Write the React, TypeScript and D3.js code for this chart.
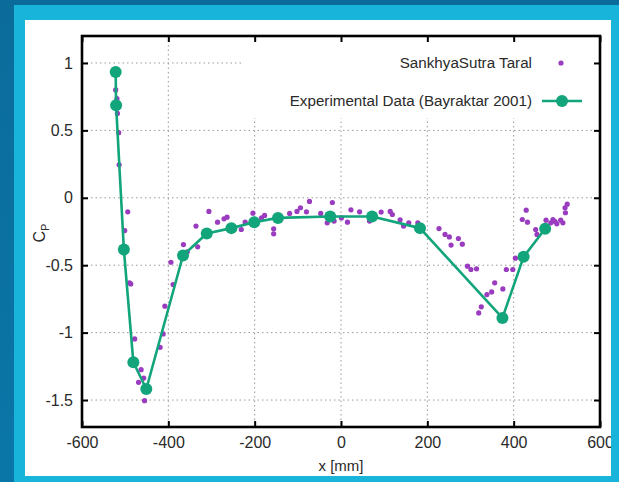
import React, { useEffect, useRef } from "react";
import * as d3 from "d3";

// SankhyaSutra Taral simulation points (x [mm], Cp)
const simX = [
  -522, -519, -518, -515, -514, -494, -501, -490, -487, -478, -463, -469, -457, -455,
  -419, -412, -408, -389, -394, -365, -356, -332, -336, -306, -286, -271, -264, -231,
  -250, -222, -204, -184, -177, -156, -156, -119, -102, -94, -80, -73, -47, -32, -20,
  -16, 1, 15, 23, 43, 66, 93, 114, 119, 137, 145, 157, 178, 227, 241, 251, 255, 272,
  281, 293, 301, 314, 319, 325, 338, 349, 356, 375, 383, 398, 404, 420, 429, 432, 451,
  454, 475, 486, 491, 500, 509, 514, 519, 524, 520, 496,
];
const simCp = [
  0.8, 0.735, 0.626, 0.483, 0.245, -0.104, -0.243, -0.631, -0.639, -1.047, -1.275,
  -1.369, -1.337, -1.505, -1.109, -1.01, -0.804, -0.644, -0.478, -0.347, -0.401, -0.364,
  -0.21, -0.101, -0.181, -0.156, -0.144, -0.235, -0.223, -0.181, -0.114, -0.149, -0.131,
  -0.23, -0.267, -0.116, -0.101, -0.074, -0.104, -0.027, -0.116, -0.186, -0.035, -0.173,
  -0.149, -0.181, -0.089, -0.104, -0.173, -0.106, -0.101, -0.124, -0.163, -0.21, -0.186,
  -0.186, -0.228, -0.272, -0.29, -0.351, -0.302, -0.344, -0.507, -0.532, -0.527, -0.854,
  -0.809, -0.718, -0.698, -0.631, -0.676, -0.532, -0.532, -0.448, -0.161, -0.092, -0.181,
  -0.235, -0.272, -0.166, -0.186, -0.161, -0.193, -0.166, -0.186, -0.074, -0.047, -0.111,
  -0.176,
];

// Experimental data (Bayraktar 2001)
const expX = [-522, -521, -503, -481, -451, -366, -311, -254, -201, -146, -25, 72, 183, 374, 423, 473];
const expCp = [0.933, 0.686, -0.384, -1.22, -1.418, -0.428, -0.265, -0.225, -0.181, -0.149, -0.139, -0.139, -0.225, -0.891, -0.438, -0.23];

const xTicks = [-600, -400, -200, 0, 200, 400, 600];
const yTicks = [1, 0.5, 0, -0.5, -1, -1.5];

const seriesNames = ["SankhyaSutra Taral", "Experimental Data (Bayraktar 2001)"];

const W = 619;
const H = 482;
const FONT = "'Liberation Sans', Arial, sans-serif";
const GREEN = "#12a47a";
const PURPLE = "#9a3cbf";

export default function App() {
  const ref = useRef<SVGSVGElement>(null);

  useEffect(() => {
    const svg = d3.select(ref.current);
    svg.selectAll("*").remove();

    const left = 82, right = 600, top = 36, bottom = 427;
    const x = d3.scaleLinear().domain([-600, 600]).range([left, right]);
    const y = d3.scaleLinear().domain([-1.7, 1.2]).range([bottom, top]);

    // frame: dark background, cyan border, white panel
    const defs = svg.append("defs");
    const grad = defs.append("linearGradient").attr("id", "bg").attr("x1", 0).attr("y1", 0).attr("x2", 0).attr("y2", 1);
    grad.append("stop").attr("offset", 0).attr("stop-color", "#0b6c9b");
    grad.append("stop").attr("offset", 1).attr("stop-color", "#0a76a8");
    defs.append("clipPath").attr("id", "panel").append("rect").attr("x", 25).attr("y", 20).attr("width", 586).attr("height", 456);

    svg.append("rect").attr("width", W).attr("height", H).attr("fill", "url(#bg)");
    svg.append("rect").attr("x", 14).attr("y", 5).attr("width", W - 14).attr("height", H - 5).attr("fill", "#19b4d9");
    svg.append("rect").attr("x", 25).attr("y", 20).attr("width", 586).attr("height", 456).attr("fill", "#ffffff");

    const g = svg.append("g").attr("clip-path", "url(#panel)");

    // grid
    const grid = g.append("g").attr("stroke", "#9a9a9a").attr("stroke-width", 1).attr("stroke-dasharray", "1.5,3");
    grid.selectAll("line.gx").data(xTicks.slice(1, -1)).enter().append("line")
      .attr("x1", (d) => x(d)).attr("x2", (d) => x(d)).attr("y1", top).attr("y2", bottom);
    grid.selectAll("line.gy").data(yTicks).enter().append("line")
      .attr("x1", left).attr("x2", right).attr("y1", (d) => y(d)).attr("y2", (d) => y(d));

    // opaque key box
    g.append("rect").attr("x", 241).attr("y", top + 1).attr("width", right - 241).attr("height", 81).attr("fill", "#ffffff");

    // simulation dots
    g.append("g").selectAll("circle").data(simX).enter().append("circle")
      .attr("cx", (d) => x(d)).attr("cy", (d, i) => y(simCp[i])).attr("r", 2.6).attr("fill", PURPLE);

    // experimental line + markers
    const line = d3.line<number>().x((d) => x(d)).y((d, i) => y(expCp[i]));
    g.append("path").datum(expX).attr("d", line).attr("fill", "none").attr("stroke", GREEN).attr("stroke-width", 2.6).attr("stroke-linejoin", "round");
    g.append("g").selectAll("circle").data(expX).enter().append("circle")
      .attr("cx", (d) => x(d)).attr("cy", (d, i) => y(expCp[i])).attr("r", 6).attr("fill", GREEN);

    // axes with inward ticks
    const styleAxis = (sel: any) => {
      sel.select(".domain").remove();
      sel.selectAll("line").attr("stroke", "#000").attr("stroke-width", 2);
      sel.selectAll("text").attr("font-family", FONT).attr("font-size", 16).attr("fill", "#2a2a2a");
    };
    g.append("g").attr("transform", `translate(0,${bottom})`)
      .call(d3.axisBottom(x).tickValues(xTicks).tickSize(-6).tickPadding(10).tickFormat((d: any) => String(d)))
      .call(styleAxis);
    g.append("g").attr("transform", `translate(0,${top})`)
      .call(d3.axisTop(x).tickValues(xTicks).tickSize(-6).tickFormat(() => ""))
      .call(styleAxis);
    g.append("g").attr("transform", `translate(${left},0)`)
      .call(d3.axisLeft(y).tickValues(yTicks).tickSize(-6).tickPadding(9).tickFormat((d: any) => String(d)))
      .call(styleAxis);
    g.append("g").attr("transform", `translate(${right},0)`)
      .call(d3.axisRight(y).tickValues(yTicks).tickSize(-6).tickFormat(() => ""))
      .call(styleAxis);

    g.append("rect").attr("x", left).attr("y", top).attr("width", right - left).attr("height", bottom - top)
      .attr("fill", "none").attr("stroke", "#000").attr("stroke-width", 2.6);

    // labels
    g.append("text").attr("x", (left + right) / 2).attr("y", 471).attr("text-anchor", "middle")
      .attr("font-family", FONT).attr("font-size", 15).attr("fill", "#2a2a2a").text("x [mm]");
    const yl = g.append("text").attr("transform", "translate(45,233) rotate(-90)").attr("text-anchor", "middle")
      .attr("font-family", FONT).attr("font-size", 16).attr("fill", "#2a2a2a");
    yl.append("tspan").text("C");
    yl.append("tspan").attr("font-size", 11).attr("dy", 4).text("P");

    // legend
    const lg = g.append("g").attr("font-family", FONT).attr("font-size", 15.2).attr("fill", "#2a2a2a");
    lg.append("text").attr("x", 532).attr("y", 68).attr("text-anchor", "end").text(seriesNames[0]);
    lg.append("circle").attr("cx", 561).attr("cy", 63).attr("r", 2.6).attr("fill", PURPLE);
    lg.append("text").attr("x", 532).attr("y", 106).attr("text-anchor", "end").text(seriesNames[1]);
    lg.append("line").attr("x1", 542).attr("x2", 582).attr("y1", 101).attr("y2", 101).attr("stroke", GREEN).attr("stroke-width", 2.6);
    lg.append("circle").attr("cx", 562).attr("cy", 101).attr("r", 6).attr("fill", GREEN);
  }, []);

  return (
    <div style={{ position: "absolute", left: 0, top: 0 }}>
      <svg ref={ref} width={W} height={H} style={{ display: "block" }} />
    </div>
  );
}
